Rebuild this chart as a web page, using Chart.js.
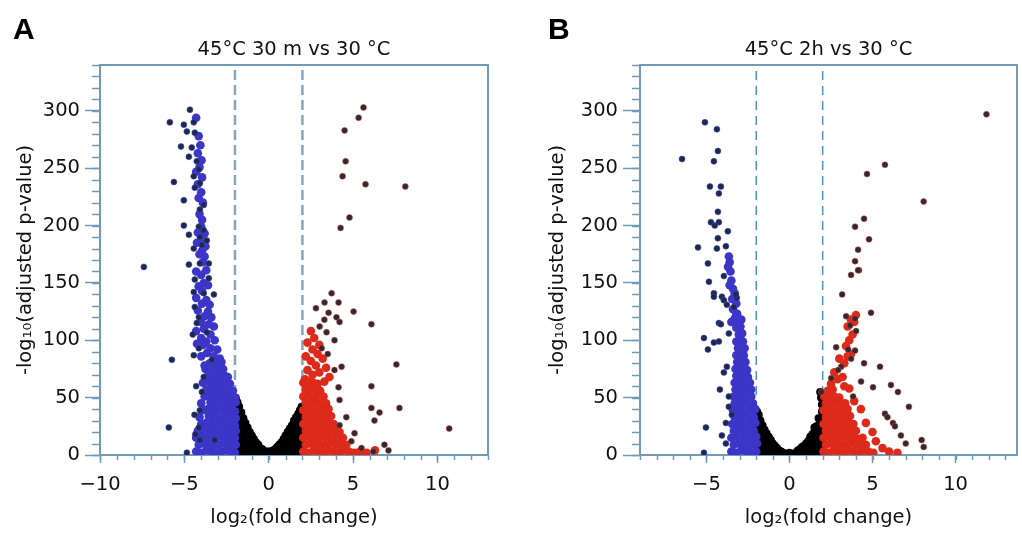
<!DOCTYPE html>
<html><head><meta charset="utf-8">
<script src="https://cdn.jsdelivr.net/npm/chart.js@4"></script>
<style>
html,body{margin:0;padding:0;background:#fff;width:1022px;height:536px;overflow:hidden;}
canvas{position:absolute;top:0;}
#ca{left:0;} #cb{left:511px;}
.lab{position:absolute;top:14px;font:bold 30px "Liberation Sans",Arial,sans-serif;line-height:30px;color:#000;}
</style></head>
<body>
<canvas id="ca" width="511" height="536"></canvas>
<canvas id="cb" width="511" height="536"></canvas>
<div class="lab" style="left:13px">A</div>
<div class="lab" style="left:548px">B</div>
<script>
// ---------- labels / ticks ----------
const titleA = '45°C 30 m vs 30 °C';
const titleB = '45°C 2h vs 30 °C';
const xTitle = 'log₂(fold change)';
const yTitle = '-log₁₀(adjusted p-value)';
const thresholds = [-2, 2];
const yMax = 340;
const xRangeA = [-10, 13];
const xRangeB = [-9, 13.7];
const xTicksA = [-10, -5, 0, 5, 10];
const xTicksB = [-5, 0, 5, 10];
const yTicks = [0, 50, 100, 150, 200, 250, 300];

// ---------- panel A data [log2FC, -log10 padj] ----------
const aDownSparse = [[-5.86,290],[-4.67,301],[-5.03,288],[-4.44,290],[-4.38,281],[-4.85,282],[-5.2,269],[-4.56,268],[-4.73,260],[-4.26,256],[-4.44,243],[-5.62,238],[-4.38,233],[-5.03,222],[-4.08,214],[-5.03,200],[-4.14,199],[-4.73,192],[-4.08,190],[-3.96,183],[-7.4,164],[-4.73,166],[-5.74,83],[-5.92,24],[-4.85,2],[-4.38,153],[-4.44,142],[-3.85,141],[-4.38,129],[-4.14,120],[-4.26,115],[-3.67,107],[-4.14,93],[-4.44,87],[-3.37,83],[-3.85,68],[-3.96,55],[-4.08,39],[-4.14,24],[-4.08,13],[-3.2,13],[-3.55,154],[-3.25,140],[-4.08,167],[-3.55,167],[-3.85,196],[-3.67,187],[-4.08,237],[-4.14,249],[-3.85,218],[-4.44,180],[-4.5,105],[-4.3,60],[-4.4,35],[-4.35,18]];
const aDown = [[-4.3,294],[-4.15,278],[-4.05,270],[-4.2,263],[-3.98,257],[-4.1,251],[-4.3,247],[-3.95,242],[-4.2,236],[-4.0,229],[-4.15,224],[-3.9,220],[-4.1,210],[-3.95,205],[-4.0,199],[-3.8,193],[-4.2,194],[-3.9,186],[-3.75,182],[-4.25,185],[-3.95,178],[-3.8,173],[-4.1,175],[-3.9,168],[-4.3,160],[-3.7,161],[-4.0,157],[-3.85,150],[-4.15,147],[-3.6,148],[-3.95,143],[-4.3,137],[-3.7,135],[-3.5,131],[-3.95,132],[-4.2,126],[-3.6,125],[-3.8,121],[-3.4,120],[-4.0,116],[-3.55,114],[-3.25,112],[-3.85,110],[-4.3,108],[-3.45,105],[-4.0,102],[-3.7,99],[-3.2,100],[-3.9,96],[-3.45,93],[-3.05,92],[-4.25,97],[-3.65,89],[-4.0,86],[-3.25,86],[-2.9,84],[-3.5,80],[-3.8,78],[-3.05,79],
[-4.3,3],[-4.0,2],[-3.7,4],[-3.4,3],[-3.1,2],[-2.8,3],[-2.5,4],[-2.25,3],[-2.0,2],
[-4.15,9],[-3.85,10],[-3.55,9],[-3.25,8],[-2.95,9],[-2.65,10],[-2.4,9],[-2.15,8],[-1.95,9],
[-4.3,15],[-4.0,16],[-3.7,15],[-3.4,14],[-3.1,15],[-2.8,16],[-2.5,15],[-2.25,14],[-2.0,15],
[-4.2,21],[-3.85,22],[-3.55,21],[-3.25,20],[-2.95,21],[-2.65,22],[-2.4,21],[-2.15,20],[-1.95,21],
[-4.0,27],[-3.7,28],[-3.4,27],[-3.1,26],[-2.8,27],[-2.5,28],[-2.25,27],[-2.0,26],
[-4.1,33],[-3.55,34],[-3.25,33],[-2.95,32],[-2.65,33],[-2.4,34],[-2.15,33],[-1.95,32],
[-3.9,39],[-3.6,40],[-3.35,39],[-3.1,38],[-2.8,39],[-2.5,40],[-2.25,39],[-2.0,38],
[-4.0,45],[-3.45,46],[-3.2,45],[-2.95,44],[-2.65,45],[-2.4,46],[-2.15,45],[-1.95,46],
[-3.8,51],[-3.55,52],[-3.3,51],[-3.05,50],[-2.8,51],[-2.5,52],[-2.25,51],[-2.0,50],
[-3.7,57],[-3.4,58],[-3.15,57],[-2.9,56],[-2.6,57],[-2.35,58],[-2.12,56],
[-3.9,63],[-3.55,64],[-3.3,63],[-3.0,62],[-2.75,63],[-2.5,64],[-2.3,62],
[-3.6,69],[-3.35,70],[-3.1,69],[-2.85,68],[-2.6,69],[-2.42,68],
[-3.75,75],[-3.45,76],[-3.2,75],[-2.95,74],[-2.7,75],
[-3.3,81],[-3.05,82],[-2.8,81]];
const aFlat = [[-1.95,2],[-1.95,8],[-1.95,14],[-1.95,20],[-1.95,26],[-1.95,32],[-1.95,38],[-1.95,44],[-1.95,50],
[-1.75,2],[-1.75,8],[-1.75,14],[-1.75,20],[-1.75,26],[-1.75,32],[-1.75,38],[-1.75,42],
[-1.5,2],[-1.5,8],[-1.5,14],[-1.5,20],[-1.5,26],[-1.5,32],
[-1.25,2],[-1.25,8],[-1.25,14],[-1.25,20],[-1.25,24],
[-1.0,2],[-1.0,8],[-1.0,14],[-1.0,17],
[-0.75,2],[-0.75,7],[-0.75,11],[-0.5,2],[-0.5,6],[-0.25,1],[-0.25,3],[0,1],[0,3],[0.25,1],[0.25,4],
[0.5,2],[0.5,7],[0.75,2],[0.75,7],[0.75,11],
[1.0,2],[1.0,8],[1.0,14],[1.0,17],
[1.25,2],[1.25,8],[1.25,14],[1.25,20],[1.25,23],
[1.5,2],[1.5,8],[1.5,14],[1.5,20],[1.5,26],[1.5,30],
[1.75,2],[1.75,8],[1.75,14],[1.75,20],[1.75,26],[1.75,32],[1.75,36],
[1.95,2],[1.95,8],[1.95,14],[1.95,20],[1.95,26],[1.95,32],[1.95,38],[1.95,42],
[-1.85,46],[-1.62,37],[-1.38,28],[-1.12,20],[-0.88,14],[-0.62,9],[-0.38,5],[-0.12,3],[0.12,3],[0.38,5],[0.62,9],[0.88,14],[1.12,20],[1.38,26],[1.62,33],[1.85,39],
[-1.62,5],[-1.62,17],[-1.38,10],[-1.12,6],[1.12,6],[1.38,10],[1.62,5],[1.62,17],[1.85,24]];
const aUp = [[2.5,108],[2.7,102],[2.3,98],[3.0,96],[2.6,92],[2.9,88],[2.2,86],[3.2,84],[2.5,82],[2.8,78],[3.4,76],[2.3,74],[3.0,72],[2.6,70],[3.6,68],[2.15,66],[3.3,64],
[2.05,3],[2.35,2],[2.65,4],[2.95,3],[3.25,2],[3.55,4],[3.85,3],[4.15,2],[4.45,4],[4.75,3],[5.05,2],
[2.2,9],[2.5,10],[2.8,9],[3.1,8],[3.4,9],[3.7,10],[4.0,9],[4.3,8],[4.6,9],
[2.05,15],[2.35,16],[2.65,15],[2.95,14],[3.25,15],[3.55,16],[3.85,15],[4.15,14],[4.4,15],
[2.2,21],[2.5,22],[2.8,21],[3.1,20],[3.4,21],[3.7,22],[4.0,21],[4.2,20],
[2.05,27],[2.35,28],[2.65,27],[2.95,26],[3.25,27],[3.55,28],[3.85,27],
[2.2,33],[2.5,34],[2.8,33],[3.1,32],[3.4,33],[3.7,34],
[2.05,39],[2.35,40],[2.65,39],[2.95,38],[3.25,39],[3.55,40],
[2.2,45],[2.5,46],[2.8,45],[3.1,44],[3.4,45],
[2.05,51],[2.35,52],[2.65,51],[2.95,50],[3.25,51],
[2.2,57],[2.5,58],[2.8,57],[3.05,56],
[2.05,63],[2.35,64],[2.65,63],[2.9,62],
[5.4,3],[5.8,2],[6.3,4]];
const aUpSparse = [[3.73,141],[3.31,133],[4.14,133],[3.55,124],[5.03,125],[4.02,120],[4.2,116],[6.09,114],[3.02,112],[3.43,107],[3.9,100],[3.14,93],[7.57,79],[4.32,77],[3.9,74],[6.09,60],[4.14,59],[4.2,48],[6.09,41],[6.57,37],[7.75,41],[6.27,30],[10.7,23],[6.86,9],[7.1,4],[5.09,19],[4.2,26],[5.62,303],[5.33,294],[4.5,283],[4.56,256],[4.38,243],[5.74,236],[8.1,234],[4.79,207],[4.26,198],[3.5,88],[2.8,128],[3.3,118],[4.6,33],[4.9,12],[5.5,6],[6.2,3]];

// ---------- panel B data ----------
const bDownSparse = [[-5.09,290],[-4.37,284],[-4.31,265],[-6.47,258],[-4.55,256],[-4.79,234],[-4.13,234],[-4.25,228],[-4.31,212],[-4.73,203],[-4.25,203],[-3.71,195],[-4.31,189],[-5.51,181],[-4.37,180],[-3.83,182],[-4.91,167],[-4.85,151],[-4.55,141],[-4.07,138],[-3.17,137],[-3.77,131],[-3.35,129],[-3.95,135],[-4.25,115],[-4.13,114],[-3.65,106],[-5.15,102],[-4.25,99],[-4.55,98],[-4.91,92],[-3.95,72],[-3.77,77],[-4.19,57],[-3.65,51],[-3.65,42],[-3.47,35],[-5.03,24],[-3.83,28],[-4.07,17],[-3.83,10],[-5.15,2],[-3.95,156],[-4.55,138],[-3.23,140],[-4.5,200]];
const bDown = [[-3.65,173],[-3.6,168],[-3.7,164],[-3.55,160],[-3.5,152],[-3.4,145],[-3.6,148],[-3.3,141],[-3.45,136],[-3.2,132],[-3.4,127],[-3.15,123],[-3.3,119],[-3.5,116],[-3.05,115],
[-3.5,3],[-3.2,2],[-2.9,4],[-2.6,3],[-2.3,2],[-2.0,3],
[-3.35,9],[-3.05,10],[-2.75,9],[-2.45,8],[-2.15,9],[-1.95,10],
[-3.5,15],[-3.2,16],[-2.9,15],[-2.6,14],[-2.3,15],[-2.0,16],
[-3.35,21],[-3.05,22],[-2.75,21],[-2.45,20],[-2.15,21],
[-3.45,27],[-3.2,28],[-2.9,27],[-2.6,26],[-2.3,27],[-2.05,28],
[-3.3,33],[-3.05,34],[-2.75,33],[-2.45,32],[-2.15,33],
[-3.4,39],[-3.15,40],[-2.9,39],[-2.6,38],[-2.3,39],[-2.05,40],
[-3.3,45],[-3.05,46],[-2.75,45],[-2.45,44],[-2.2,45],
[-3.35,51],[-3.1,52],[-2.85,51],[-2.6,50],[-2.3,51],
[-3.25,57],[-3.0,58],[-2.75,57],[-2.45,56],[-2.3,57],
[-3.3,63],[-3.05,64],[-2.8,63],[-2.55,62],[-2.38,63],
[-3.2,69],[-2.95,70],[-2.7,69],[-2.5,68],
[-3.25,75],[-3.0,76],[-2.75,75],[-2.55,74],
[-3.15,81],[-2.9,82],[-2.65,81],
[-3.2,87],[-2.95,88],[-2.75,87],
[-3.1,93],[-2.85,94],[-2.7,93],
[-3.2,99],[-2.95,100],[-2.8,99],
[-3.05,105],[-2.85,106],[-3.2,111],[-2.95,112],[-3.1,117],[-2.9,118],[-3.2,123]];
const bFlat = [[-1.95,2],[-1.95,8],[-1.95,14],[-1.95,20],[-1.95,26],[-1.95,32],[-1.95,38],
[-1.75,2],[-1.75,8],[-1.75,14],[-1.75,20],[-1.75,26],[-1.75,30],
[-1.5,2],[-1.5,8],[-1.5,14],[-1.5,20],[-1.5,22],
[-1.25,2],[-1.25,8],[-1.25,14],[-1.25,16],
[-1.0,2],[-1.0,7],[-1.0,10],[-0.75,2],[-0.75,6],[-0.5,1],[-0.5,3],[-0.25,1],[0,1],[0,2],[0.25,1],[0.5,1],[0.5,4],[0.75,2],[0.75,7],
[1.0,2],[1.0,7],[1.0,10],
[1.25,2],[1.25,8],[1.25,14],[1.25,16],
[1.5,2],[1.5,8],[1.5,14],[1.5,20],[1.5,24],
[1.75,2],[1.75,8],[1.75,14],[1.75,20],[1.75,26],[1.75,32],
[1.95,2],[1.95,8],[1.95,14],[1.95,20],[1.95,26],[1.95,32],[1.95,38],[1.95,44],
[-1.85,35],[-1.62,26],[-1.38,19],[-1.12,13],[-0.88,8],[-0.62,4],[-0.38,2],[0.38,2],[0.62,5],[0.88,8],[1.12,12],[1.38,18],[1.62,25],[1.85,32],[1.9,50],[1.85,55]];
const bUp = [[2.05,3],[2.35,2],[2.65,4],[2.95,3],[3.25,2],[3.55,4],[3.85,3],[4.15,2],[4.45,4],[4.75,3],[5.05,2],
[2.2,9],[2.5,10],[2.8,9],[3.1,8],[3.4,9],[3.7,10],[4.0,9],[4.3,8],[4.6,9],
[2.05,15],[2.35,16],[2.65,15],[2.95,14],[3.25,15],[3.55,16],[3.85,15],[4.15,14],[4.4,15],
[2.2,21],[2.5,22],[2.8,21],[3.1,20],[3.4,21],[3.7,22],[4.0,21],
[2.05,27],[2.35,28],[2.65,27],[2.95,26],[3.25,27],[3.55,28],[3.85,27],
[2.2,33],[2.5,34],[2.8,33],[3.1,32],[3.4,33],[3.65,34],
[2.05,39],[2.35,40],[2.65,39],[2.95,38],[3.25,39],[3.5,40],
[2.2,45],[2.5,46],[2.8,45],[3.1,44],[3.35,45],
[2.1,51],[2.4,52],[2.7,51],[3.0,50],[2.3,56],[2.6,57],
[2.5,62],[2.9,66],[2.7,72],[3.2,68],[3.3,80],[3.0,84],[3.5,86],[3.7,88],[3.4,95],[3.6,100],[3.8,105],[3.5,112],[3.9,116],[4.0,122],[3.7,118],[3.3,60],[3.6,58],[3.9,47],[4.3,40],[4.6,28],[5.2,12],[5.6,6],[6.0,3],[6.5,2],[5.0,20]];
const bUpSparse = [[11.86,297],[4.67,245],[5.75,253],[8.08,221],[3.95,199],[4.49,206],[4.79,188],[4.13,179],[3.95,169],[4.19,161],[3.71,157],[4.13,161],[3.17,140],[4.91,124],[3.41,121],[3.95,119],[3.65,113],[4.01,108],[2.81,94],[3.53,92],[3.95,91],[3.71,84],[4.49,80],[3.11,77],[5.45,77],[2.93,74],[2.51,67],[4.31,64],[6.11,61],[5.03,59],[6.53,55],[3.83,51],[1.92,55],[7.19,42],[5.75,36],[6.23,28],[6.71,17],[7.0,10],[7.96,13],[8.08,7],[6.35,25],[5.9,33]];

// ---------- styling ----------
const FONT = 'DejaVu Sans';
const AXIS = '#6f9bb7';
const toPts = arr => arr.map(p => ({x: p[0], y: p[1]}));
const fmt = v => v < 0 ? '\u2212' + Math.abs(v) : String(v);

const frame = {
  id: 'frame',
  afterDraw(chart) {
    const {ctx, chartArea: a, scales: {x, y}} = chart;
    ctx.save();
    ctx.strokeStyle = AXIS;
    ctx.lineWidth = 2;
    ctx.beginPath();
    ctx.moveTo(a.left, a.top); ctx.lineTo(a.right, a.top); ctx.lineTo(a.right, a.bottom);
    ctx.stroke();
    ctx.lineWidth = 1.5;
    ctx.beginPath();
    for (let v = Math.ceil(x.min); v <= x.max; v++) {
      const px = Math.round(x.getPixelForValue(v)) + 0.5;
      ctx.moveTo(px, a.bottom); ctx.lineTo(px, a.bottom + 5);
    }
    for (let v = 0; v <= y.max; v += 10) {
      const py = Math.round(y.getPixelForValue(v)) + 0.5;
      ctx.moveTo(a.left - 8, py); ctx.lineTo(a.left, py);
    }
    ctx.stroke();
    ctx.restore();
  }
};

function build(id, cfg) {
  const vline = v => ({type: 'line', data: [{x: v, y: 0}, {x: v, y: yMax}],
    borderColor: cfg.dashColor, borderWidth: cfg.dashWidth, borderDash: cfg.dash, pointRadius: 0, showLine: true, fill: false});
  const datasets = [
    {data: toPts(cfg.downSparse), backgroundColor: '#1c2a4a', borderColor: 'rgba(70,70,200,0.55)', borderWidth: 1, pointRadius: 3},
    {data: toPts(cfg.upSparse), backgroundColor: '#2d2a33', borderColor: 'rgba(225,70,50,0.5)', borderWidth: 1, pointRadius: 3},
    {data: toPts(cfg.down), backgroundColor: '#3d35c8', borderWidth: 0, pointRadius: 4.3},
    {data: toPts(cfg.up), backgroundColor: '#dd2a1a', borderWidth: 0, pointRadius: 4.3},
    {data: toPts(cfg.flat), backgroundColor: '#000', borderWidth: 0, pointRadius: 4},
    vline(thresholds[0]), vline(thresholds[1])
  ];
  return new Chart(document.getElementById(id), {
    type: 'scatter',
    data: {datasets},
    plugins: [frame],
    options: {
      responsive: false, animation: false, devicePixelRatio: 1,
      layout: {padding: {left: 0, right: cfg.padRight, top: 0, bottom: 0}},
      plugins: {
        legend: {display: false}, tooltip: {enabled: false},
        title: {display: true, text: cfg.title, fullSize: false, color: '#111',
          font: {family: FONT, size: 19.5, weight: 'normal'}, padding: {top: 38.3, bottom: 3.3}}
      },
      scales: {
        x: {type: 'linear', min: cfg.xRange[0], max: cfg.xRange[1],
          afterBuildTicks: s => { s.ticks = cfg.xTicks.map(v => ({value: v})); },
          afterFit: s => { s.height = 81; },
          ticks: {callback: fmt, color: '#111', font: {family: FONT, size: 19.5}, padding: 10.3, maxRotation: 0, autoSkip: false},
          grid: {drawOnChartArea: false, tickLength: 8, tickColor: AXIS, tickWidth: 1.5, color: AXIS},
          border: {color: AXIS, width: 2},
          title: {display: true, text: xTitle, color: '#111', font: {family: FONT, size: 19.5}, padding: {top: 0, bottom: 6.3}}
        },
        y: {type: 'linear', min: 0, max: yMax,
          afterBuildTicks: s => { s.ticks = yTicks.map(v => ({value: v})); },
          afterFit: s => { s.width = cfg.yWidth; },
          ticks: {callback: fmt, color: '#111', font: {family: FONT, size: 19.5}, padding: 5, autoSkip: false},
          grid: {drawOnChartArea: false, tickLength: cfg.yTickLen, tickColor: AXIS, tickWidth: 1.5, color: AXIS},
          border: {color: AXIS, width: 2},
          title: {display: true, text: yTitle, color: '#111', font: {family: FONT, size: 19.5}, padding: {top: cfg.yTitlePad, bottom: 0}}
        }
      }
    }
  });
}

build('ca', {title: titleA, xRange: xRangeA, xTicks: xTicksA, yWidth: 100, padRight: 23, yTickLen: 15, yTitlePad: 14.3,
  dashColor: '#86a6bc', dashWidth: 2.5, dash: [10, 5],
  downSparse: aDownSparse, upSparse: aUpSparse, down: aDown, up: aUp, flat: aFlat});
build('cb', {title: titleB, xRange: xRangeB, xTicks: xTicksB, yWidth: 129, padRight: 2, yTickLen: 17, yTitlePad: 35.3,
  dashColor: '#4f91bf', dashWidth: 1.5, dash: [9, 6],
  downSparse: bDownSparse, upSparse: bUpSparse, down: bDown, up: bUp, flat: bFlat});
</script>
</body></html>
